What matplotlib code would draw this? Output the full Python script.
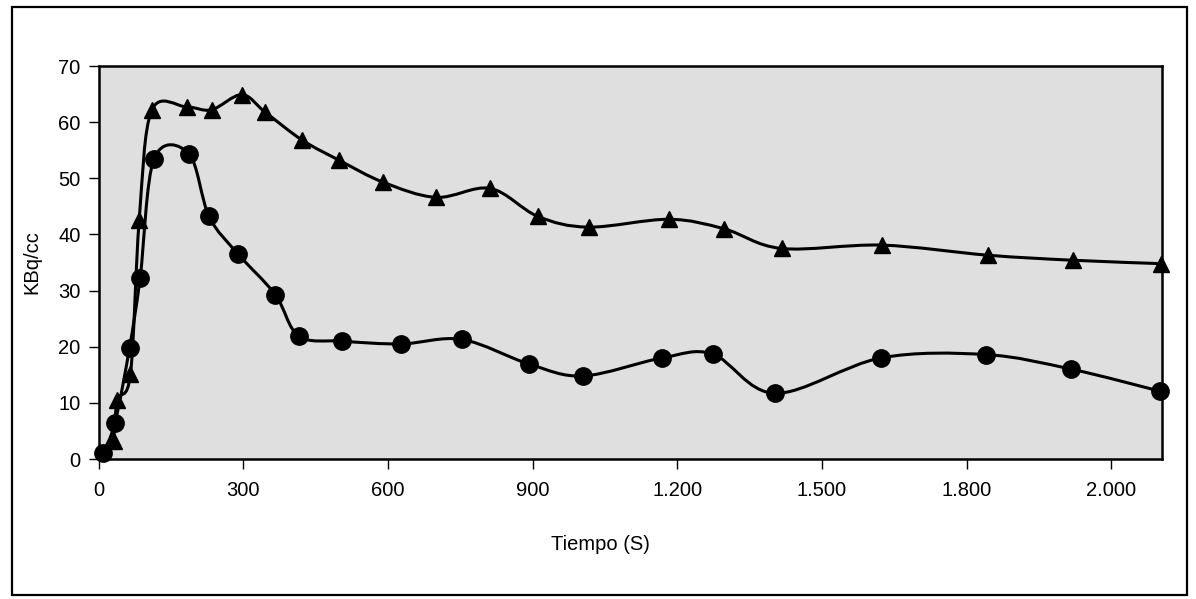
import numpy as np
import matplotlib
matplotlib.use('Agg')
import matplotlib.pyplot as plt
from matplotlib.path import Path
from matplotlib.patches import PathPatch, Rectangle

plt.rcParams['font.family'] = ['Liberation Sans', 'DejaVu Sans']

# circles series
cx = [9, 34, 64, 86, 115, 187, 229, 288, 366, 415, 505, 627, 753, 893, 1005,
      1168, 1273, 1403, 1622, 1840, 2017, 2200]
cy = [1.1, 6.5, 19.8, 32.3, 53.5, 54.4, 43.2, 36.6, 29.3, 21.9, 21.0, 20.5,
      21.3, 16.9, 14.8, 18.0, 18.7, 11.7, 18.0, 18.6, 16.0, 12.1]

# triangles series
tx = [31, 39, 66, 84, 110, 183, 234, 297, 345, 422, 499, 590, 700, 812, 911,
      1016, 1182, 1297, 1416, 1624, 1844, 2021, 2202]
ty = [3.2, 10.5, 15.2, 42.5, 62.1, 62.7, 62.2, 64.9, 61.8, 56.8, 53.2, 49.3,
      46.6, 48.2, 43.2, 41.3, 42.7, 41.0, 37.5, 38.1, 36.3, 35.4, 34.8]

xticks = [0, 300, 600, 900, 1200, 1500, 1800, 2100]
xticklabels = ['0', '300', '600', '900', '1.200', '1.500', '1.800', '2.000']


def smooth_path(x, y):
    # bezier through the points, excel-like smoothing
    p = np.column_stack([x, y]).astype(float)
    pp = np.vstack([p[0], p, p[-1]])
    verts = [p[0]]
    codes = [Path.MOVETO]
    for i in range(len(p) - 1):
        c1 = pp[i + 1] + (pp[i + 2] - pp[i]) / 6
        c2 = pp[i + 2] - (pp[i + 3] - pp[i + 1]) / 6
        verts += [c1, c2, p[i + 1]]
        codes += [Path.CURVE4] * 3
    return Path(verts, codes)


fig = plt.figure(figsize=(11.96, 5.99), dpi=100)
ax = fig.add_axes([0.0825, 0.2337, 0.9716 - 0.0825, 0.8898 - 0.2337])
ax.set_facecolor('#dfdfdf')

ax.add_patch(PathPatch(smooth_path(tx, ty), fill=False, lw=2.2, ec='black', zorder=2))
ax.add_patch(PathPatch(smooth_path(cx, cy), fill=False, lw=2.2, ec='black', zorder=2))
ax.plot(tx, ty, ls='none', marker='^', ms=11.5, c='black', zorder=3, clip_on=False)
ax.plot(cx, cy, ls='none', marker='o', ms=12.5, c='black', zorder=3, clip_on=False)

ax.set_xlim(0, 2205)
ax.set_ylim(0, 70)
ax.set_xticks(xticks)
ax.set_xticklabels(xticklabels)
ax.set_yticks(range(0, 71, 10))

for s in ax.spines.values():
    s.set_linewidth(1.8)
ax.tick_params(axis='both', direction='out', length=7, width=1, labelsize=14.5)
ax.tick_params(axis='x', pad=9)
ax.tick_params(axis='y', pad=6)

ax.set_ylabel('KBq/cc', fontsize=14.5, labelpad=12)
fig.text(600 / 1196, 1 - 545 / 599, 'Tiempo (S)', ha='center', va='center', fontsize=14.5)

fig.patches.append(Rectangle((12 / 1196, 1 - 595 / 599), 1175 / 1196, 588 / 599,
                             transform=fig.transFigure, fill=False, lw=1.6, ec='black'))

fig.savefig('out.png', dpi=100)
